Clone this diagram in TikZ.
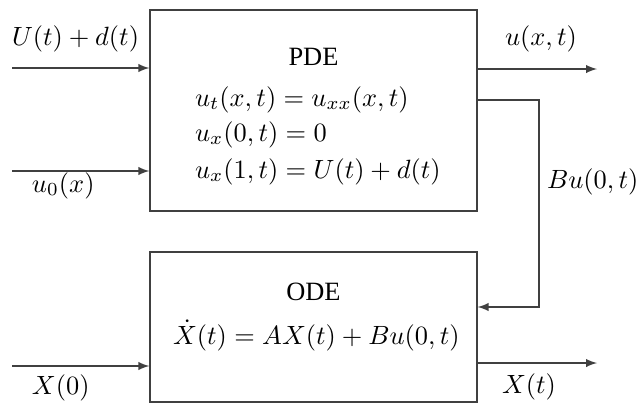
\documentclass[tikz,border=0pt]{standalone}
\usepackage[no-math]{fontspec}
\newfontfamily\timesfont{Liberation Serif}
\usetikzlibrary{arrows}
\begin{document}
\begin{tikzpicture}[x=0.3788pt,y=-0.3788pt,
  blockbox/.style={draw=black!75,line width=0.45pt,minimum width=123.9pt,inner sep=0pt},
  lbl/.style={anchor=base west,inner sep=0pt,outer sep=0pt},
  ttl/.style={anchor=base,inner sep=0pt,outer sep=0pt,font=\timesfont},
  conn/.style={draw=black!75,line width=0.45pt,-latex}]
\useasboundingbox (0,0) rectangle (639,403);
% blocks
\node[blockbox,minimum height=76.1pt] (pde) at (313.5,110.5) {};
\node[blockbox,minimum height=56.8pt] (ode) at (313.5,327) {};
% block texts
\node[ttl] (pdet) at (313.5,65) {PDE};
\node[lbl] (eq1) at (195,106) {$u_t(x,t)=u_{xx}(x,t)$};
\node[lbl] (eq2) at (195,141) {$u_x(0,t)=0$};
\node[lbl] (eq3) at (195,178) {$u_x(1,t)=U(t)+d(t)$};
\node[ttl] (odet) at (313.5,300) {ODE};
\node[lbl] (eq4) at (173,344) {$\dot X(t)=AX(t)+Bu(0,t)$};
% free ends
\coordinate (in1) at (12,68);
\coordinate (in2) at (12,171);
\coordinate (in3) at (12,366);
\coordinate (out1) at (597,69);
\coordinate (out2) at (597,363);
\coordinate (fbA) at (539,100);
\coordinate (fbB) at (539,307);
% connectors
\draw[conn] (in1) -- (in1 -| pde.west);
\draw[conn] (in2) -- (in2 -| pde.west);
\draw[conn] (in3) -- (in3 -| ode.west);
\draw[conn] (out1 -| pde.east) -- (out1);
\draw[conn] (out2 -| ode.east) -- (out2);
\draw[conn] (fbA -| pde.east) -- (fbA) -- (fbB) -- (fbB -| ode.east);
% labels
\node[lbl] (l1) at (12,45) {$U(t)+d(t)$};
\node[lbl] (l2) at (32,192) {$u_0(x)$};
\node[lbl] (l3) at (32,394) {$X(0)$};
\node[lbl] (l4) at (505,45) {$u(x,t)$};
\node[lbl] (l5) at (547,188) {$Bu(0,t)$};
\node[lbl] (l6) at (502,393) {$X(t)$};
\end{tikzpicture}
\end{document}
